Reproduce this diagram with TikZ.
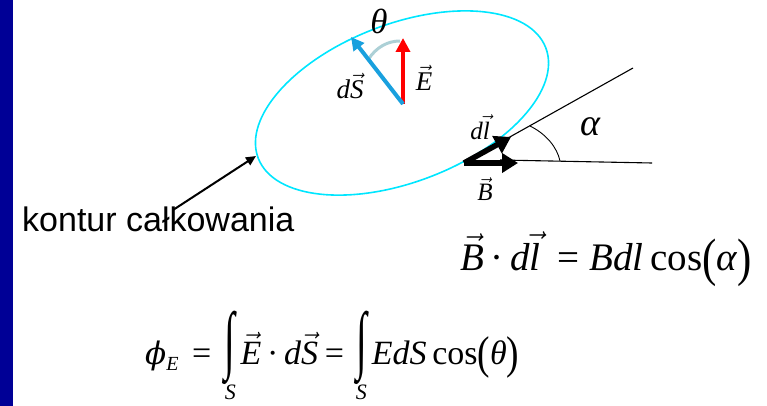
\RequirePackage{fix-cm}
\documentclass[tikz,border=0pt]{standalone}
\usepackage[no-math]{fontspec}
\setmainfont{Liberation Serif}
\newfontfamily\sansf{Liberation Sans}
\newfontfamily\dvserif{DejaVu Serif}
\usetikzlibrary{arrows.meta}
\definecolor{barblue}{RGB}{0,0,150}
\definecolor{contourcyan}{RGB}{0,230,255}
\definecolor{dsblue}{RGB}{25,160,222}
\definecolor{arcgray}{RGB}{172,208,214}
\newcommand\vv[1]{\ensuremath{\vec{\hbox{\itshape #1}}}}
\newcommand\bigpar[1]{\raisebox{-0.13em}{\scalebox{1.1}[1.35]{#1}}}
\newcommand\intS{\leavevmode\setbox0\hbox{\scalebox{1.15}[2.2]{∫}}%
  \rlap{\hbox to\wd0{\hss\raisebox{-1.03em}{\fontsize{22}{22}\selectfont\itshape S}\hss}}\box0}
\tikzset{
  lbl/.style={inner sep=0pt},
  thinline/.style={line width=1.1pt, black},
  fatarrow/.style={line width=5.5pt, -{Triangle[width=19pt,length=16pt]}},
}
\begin{document}
\begin{tikzpicture}[x=1pt,y=-1pt]
\useasboundingbox (0,0) rectangle (767,406);
\fill[barblue] (0,0) rectangle (13,406);
% contour ellipse
\coordinate (C) at (402,103);
\draw[contourcyan, line width=1.6pt, rotate around={21:(C)}] (C) ellipse [x radius=154, y radius=79];
% E and dS
\coordinate (O) at (403,104);
\coordinate (Etip) at (403,38);
\coordinate (Stip) at (351,37);
\coordinate (A1) at (368,60);
\coordinate (A2) at (400,41);
\draw[arcgray, line width=3pt] (A1) .. controls (376,47) and (388,41) .. (A2);
\draw[red, line width=4pt, -{Triangle[width=14pt,length=14pt]}] (O) -- (Etip);
\draw[dsblue, line width=4pt, -{Triangle[width=13pt,length=13pt]}] (O) -- (Stip);
\node[lbl] (theta) at (379,21) {\fontsize{35}{35}\selectfont\itshape θ};
\node[lbl] (dS) at (350,86) {\fontsize{27}{27}\selectfont\itshape d\vv{S}};
\node[lbl] (E) at (424,78) {\fontsize{27}{27}\selectfont\vv{E}};
% dl and B
\coordinate (P) at (464,163);
\coordinate (dltip) at (511,137);
\coordinate (Btip) at (518,163);
\coordinate (L1a) at (508,138);
\coordinate (L1b) at (633,68);
\coordinate (L2a) at (500,160);
\coordinate (L2b) at (652,163);
\draw[thinline] (L1a) -- (L1b);
\draw[thinline] (L2a) -- (L2b);
\coordinate (R1) at (530,126);
\coordinate (R2) at (560,161);
\draw[line width=0.9pt] (R1) .. controls (546,134) and (557,147) .. (R2);
\draw[fatarrow] (P) -- (dltip);
\draw[fatarrow] (P) -- (Btip);
\node[lbl] (dl) at (480,127) {\fontsize{25}{25}\selectfont\itshape d\vv{l}};
\node[lbl] (B) at (485,189) {\fontsize{25}{25}\selectfont\vv{B}};
\node[lbl] (alpha) at (590,127) {\fontsize{38}{38}\selectfont\itshape α};
% kontur label
\node[lbl, anchor=base west] (kontur) at (22,231) {\sansf\fontsize{34}{34}\selectfont kontur całkowania};
\coordinate (K1) at (173,210);
\coordinate (K2) at (256,156);
\draw[line width=2pt, -{Triangle[width=9pt,length=10pt]}] (K1) -- (K2);
% formulas
\node[lbl, anchor=base west] (f1) at (460,270) {\fontsize{39}{39}\selectfont
  \vv{B}\,·\,{\itshape d}\vv{l}\hspace{0.45em}= {\itshape Bdl}\,cos\bigpar{(}{\itshape α}\bigpar{)}};
\node[lbl, anchor=base west] (f2) at (145,364) {\fontsize{34}{34}\selectfont
  {\dvserif\fontsize{31}{31}\selectfont\itshape ϕ}\raisebox{-0.2em}{\fontsize{20}{20}\selectfont\itshape E}\hspace{0.4em}=\hspace{0.4em}\intS\hspace{0.15em}\vv{E}\,·\,{\itshape d}\vv{S}\hspace{0.2em}=\hspace{0.35em}\intS\hspace{0.15em}{\itshape EdS}\,cos\bigpar{(}{\itshape θ}\bigpar{)}};
\end{tikzpicture}
\end{document}
